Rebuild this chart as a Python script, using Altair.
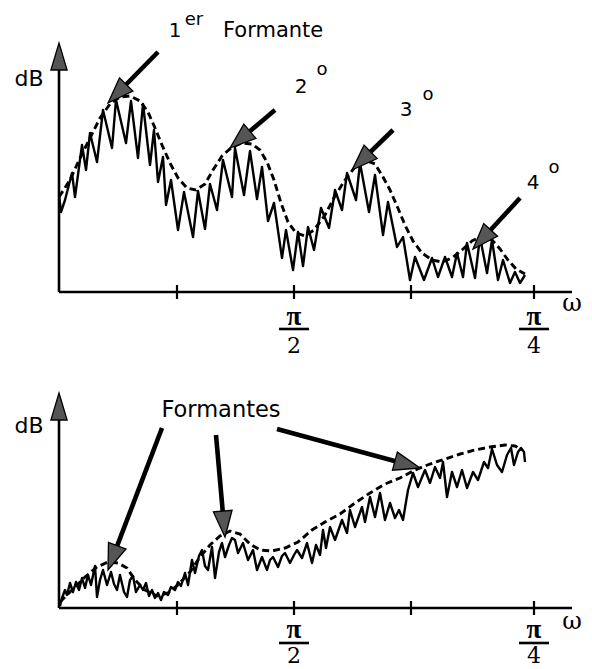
import math
import altair as alt
import pandas as pd

# ---------------- geometry of the two panels (data units) ----------------
W = 513          # frequency axis extent (bins)
H_TOP = 249      # level extent of the upper panel
H_BOT = 215      # level extent of the lower panel
GAP = 101        # space between the two panels
TOP_BASE = H_BOT + GAP
H_ALL = TOP_BASE + H_TOP

# ---------------- upper panel: voiced spectrum ----------------
top_freq = [0, 2, 6, 13, 16, 23, 27, 31, 38, 44, 53, 57, 67, 72, 79, 84, 91, 95, 99, 104,
            107, 112, 119, 125, 134, 139, 146, 151, 158, 164, 173, 176, 185, 191, 198, 203,
            209, 215, 223, 227, 234, 239, 244, 249, 255, 262, 270, 276, 283, 288, 297, 301,
            310, 316, 324, 329, 338, 344, 351, 356, 365, 373, 379, 386, 393, 398, 404, 408,
            416, 421, 428, 433, 439, 444, 451, 456, 461, 466]
top_level = [97, 80, 92, 119, 95, 147, 122, 159, 130, 182, 144, 192, 149, 191, 134, 188,
             127, 162, 110, 135, 87, 112, 62, 100, 55, 101, 63, 108, 82, 132, 95, 144, 97,
             141, 93, 125, 71, 89, 34, 62, 22, 60, 26, 65, 42, 84, 64, 102, 82, 119, 92, 129,
             80, 117, 57, 90, 45, 55, 12, 35, 12, 34, 15, 35, 15, 39, 15, 49, 14, 55, 19, 52,
             12, 32, 9, 20, 9, 17]
top_env_freq = [0, 11, 21, 31, 41, 51, 61, 71, 81, 89, 96, 103, 111, 119, 128, 137, 146,
                154, 163, 173, 183, 193, 201, 208, 215, 222, 229, 237, 246, 255, 266, 276,
                286, 296, 306, 316, 324, 331, 338, 346, 354, 363, 373, 383, 393, 403, 413,
                423, 433, 441, 449, 457, 466]
top_env_level = [95, 112, 134, 154, 174, 188, 195, 196, 191, 180, 164, 147, 129, 114, 104,
                 102, 108, 122, 136, 145, 149, 148, 142, 130, 112, 89, 70, 59, 56, 62, 77,
                 96, 112, 125, 132, 128, 115, 102, 86, 67, 51, 39, 32, 30, 34, 42, 51, 56,
                 52, 43, 32, 23, 18]

# ---------------- lower panel: unvoiced spectrum ----------------
bot_freq = [1, 3, 6, 8, 11, 14, 17, 20, 23, 26, 29, 32, 36, 38, 41, 44, 48, 52, 55, 58, 61,
            65, 68, 71, 74, 77, 81, 84, 87, 90, 93, 96, 99, 102, 105, 109, 112, 116, 119, 122,
            126, 129, 133, 136, 140, 143, 146, 149, 153, 156, 160, 163, 166, 170, 173, 176,
            179, 184, 189, 194, 198, 203, 208, 211, 214, 219, 223, 226, 231, 235, 238, 243,
            248, 253, 257, 261, 264, 267, 271, 276, 283, 288, 291, 296, 303, 306, 311, 316,
            321, 326, 331, 336, 340, 344, 349, 354, 359, 366, 371, 376, 381, 384, 388, 393,
            398, 403, 408, 414, 419, 425, 429, 433, 438, 443, 448, 452, 455, 459, 462, 465, 466]
bot_level = [2, 10, 18, 13, 25, 16, 26, 18, 30, 20, 33, 23, 42, 11, 28, 38, 23, 36, 24, 18,
             33, 16, 11, 28, 32, 16, 23, 18, 25, 12, 18, 10, 15, 8, 16, 13, 21, 18, 26, 22, 35,
             23, 48, 35, 52, 58, 42, 38, 61, 30, 56, 65, 51, 63, 70, 68, 55, 65, 48, 58, 38,
             51, 38, 48, 51, 41, 52, 55, 45, 53, 58, 50, 65, 45, 63, 53, 78, 60, 81, 68, 88,
             75, 98, 81, 101, 86, 111, 91, 115, 88, 105, 90, 98, 88, 118, 135, 121, 138, 125,
             141, 130, 146, 111, 136, 121, 138, 120, 136, 128, 146, 140, 159, 143, 136, 153,
             160, 143, 156, 160, 156, 146]
bot_env_freq = [1, 13, 26, 38, 49, 59, 68, 76, 86, 98, 109, 119, 131, 141, 151, 161, 171,
                181, 191, 201, 213, 226, 239, 253, 266, 281, 296, 311, 326, 341, 356, 371,
                386, 401, 416, 431, 446, 456, 463]
bot_env_level = [6, 18, 31, 41, 46, 45, 40, 28, 18, 12, 15, 23, 36, 51, 63, 72, 77, 74, 64,
                 58, 57, 60, 66, 78, 86, 94, 105, 115, 124, 130, 138, 144, 149, 154, 158,
                 161, 163, 162, 158]

# ---------------- axis ticks and fraction labels ----------------
tick_freq = [118, 235, 352, 475]
frac_freq = [235, 475]
frac_den = ["2", "4"]

# ---------------- annotation arrows (from -> to) ----------------
top_arrow_from = [(99, 240), (216, 182), (334, 162), (461, 94)]
top_arrow_to = [(49, 189), (171, 144), (293, 122), (414, 43)]
bot_arrow_from = [(103, 180), (157, 173), (218, 179)]
bot_arrow_to = [(49, 38), (166, 71), (361, 140)]

SANS = "DejaVu Sans"
SERIF = "DejaVu Serif"
PI_FONT = "Liberation Serif"
top_labels = [
    ("dB", -30, 213, SANS, 22, "center"),
    ("1", 116, 261, SANS, 20, "center"),
    ("er", 135, 272, SANS, 18, "center"),
    ("Formante", 164, 261, SANS, 21, "left"),
    ("2", 242, 205, SANS, 20, "center"),
    ("o", 263, 222, SANS, 18, "center"),
    ("3", 347, 182, SANS, 20, "center"),
    ("o", 369, 197, SANS, 18, "center"),
    ("4", 474, 109, SANS, 20, "center"),
    ("o", 495, 124, SANS, 18, "center"),
    ("ω", 513, -12, SERIF, 24, "center"),
]
bot_labels = [
    ("dB", -30, 182, SANS, 22, "center"),
    ("Formantes", 162, 198, SANS, 22.5, "center"),
    ("ω", 513, -14, SERIF, 24, "center"),
]

HEAD_PATH = "M0,0L0.36,1L-0.36,1Z"
AXIS_HEAD_PATH = "M0,0L0.3,1L-0.3,1Z"

XSC = alt.Scale(domain=[0, W], nice=False, zero=False)
YSC = alt.Scale(domain=[0, H_ALL], nice=False, zero=False)


def X(f):
    return alt.X(f, type="quantitative", scale=XSC, axis=None)


def Y(f):
    return alt.Y(f, type="quantitative", scale=YSC, axis=None)


def build_panel(base, H, freq, level, env_f, env_l, arr_from, arr_to, labels, frac_offsets):
    layers = []
    # axis lines
    axes_df = pd.DataFrame({"x": [0, 0], "y": [base, base], "x2": [W, 0],
                            "y2": [base, base + H - 20]})
    layers.append(alt.Chart(axes_df).mark_rule(strokeWidth=2.6, color="black").encode(
        x=X("x"), y=Y("y"), x2="x2:Q", y2="y2:Q"))
    # ticks crossing the frequency axis
    tick_df = pd.DataFrame({"x": tick_freq, "y": [base - 7] * len(tick_freq),
                            "y2": [base + 7] * len(tick_freq)})
    layers.append(alt.Chart(tick_df).mark_rule(strokeWidth=2.2, color="black").encode(
        x=X("x"), y=Y("y"), y2="y2:Q"))
    # arrow head of the level axis
    head_df = pd.DataFrame({"x": [0], "y": [base + H]})
    layers.append(alt.Chart(head_df).mark_point(
        shape=AXIS_HEAD_PATH, size=(2 * 27) ** 2, filled=True, fill="#555555",
        stroke="black", strokeWidth=1.3, opacity=1).encode(x=X("x"), y=Y("y")))
    # spectrum (solid) and envelope (dashed)
    sp_df = pd.DataFrame({"f": freq, "l": [v + base for v in level]})
    layers.append(alt.Chart(sp_df).mark_line(color="black", strokeWidth=2.4,
                                             strokeJoin="round").encode(x=X("f"), y=Y("l")))
    env_df = pd.DataFrame({"f": env_f, "l": [v + base for v in env_l]})
    layers.append(alt.Chart(env_df).mark_line(color="black", strokeWidth=2.9,
                                              strokeDash=[7, 4]).encode(x=X("f"), y=Y("l")))
    # annotation arrows
    rows = []
    for (fx, fy), (tx, ty) in zip(arr_from, arr_to):
        dx, dy = tx - fx, ty - fy
        L = math.hypot(dx, dy)
        ex, ey = tx - dx / L * 14, ty - dy / L * 14
        ang = (math.degrees(math.atan2(dx, dy)) + 360) % 360
        rows.append({"x": fx, "y": fy + base, "x2": ex, "y2": ey + base,
                     "tx": tx, "ty": ty + base, "ang": ang})
    arr_df = pd.DataFrame(rows)
    layers.append(alt.Chart(arr_df).mark_rule(strokeWidth=4.6, color="black").encode(
        x=X("x"), y=Y("y"), x2="x2:Q", y2="y2:Q"))
    layers.append(alt.Chart(arr_df).mark_point(
        shape=HEAD_PATH, size=(2 * 26) ** 2, filled=True, fill="#555555",
        stroke="black", strokeWidth=1.3, opacity=1).encode(
        x=X("tx"), y=Y("ty"), angle=alt.Angle("ang:Q", scale=None)))
    # text labels
    for txt, lx, ly, font, fs, align in labels:
        df = pd.DataFrame({"x": [lx], "y": [ly + base]})
        layers.append(alt.Chart(df).mark_text(text=txt, font=font, fontSize=fs, align=align,
                                              baseline="middle", color="black").encode(
            x=X("x"), y=Y("y")))
    # fractions  pi / n
    pi_y, bar_y, den_y = frac_offsets
    pi_df = pd.DataFrame({"x": frac_freq, "y": [pi_y + base] * len(frac_freq)})
    layers.append(alt.Chart(pi_df).mark_text(text="π", font=PI_FONT, fontSize=27,
                                             fontWeight="bold", baseline="middle",
                                             color="black").encode(x=X("x"), y=Y("y")))
    bar_df = pd.DataFrame({"x": [f - 15 for f in frac_freq], "x2": [f + 15 for f in frac_freq],
                           "y": [bar_y + base] * len(frac_freq)})
    layers.append(alt.Chart(bar_df).mark_rule(strokeWidth=2.6, color="black").encode(
        x=X("x"), x2="x2:Q", y=Y("y")))
    den_df = pd.DataFrame({"x": frac_freq, "y": [den_y + base] * len(frac_freq), "t": frac_den})
    layers.append(alt.Chart(den_df).mark_text(font=SERIF, fontSize=22, baseline="middle",
                                              color="black").encode(
        x=X("x"), y=Y("y"), text="t:N"))
    return layers


layers = []
layers += build_panel(TOP_BASE, H_TOP, top_freq, top_level, top_env_freq, top_env_level,
                      top_arrow_from, top_arrow_to, top_labels, (-25, -37, -54))
layers += build_panel(0, H_BOT, bot_freq, bot_level, bot_env_freq, bot_env_level,
                      bot_arrow_from, bot_arrow_to, bot_labels, (-22, -35, -48))

chart = alt.layer(*layers).properties(
    width=W, height=H_ALL,
    autosize=alt.AutoSizeParams(type="none"),
    padding={"left": 51, "top": 35, "right": 12, "bottom": 59},
    background="white",
).configure_view(stroke=None)

chart.save("out.html", embed_options={"renderer": "svg", "actions": False})
